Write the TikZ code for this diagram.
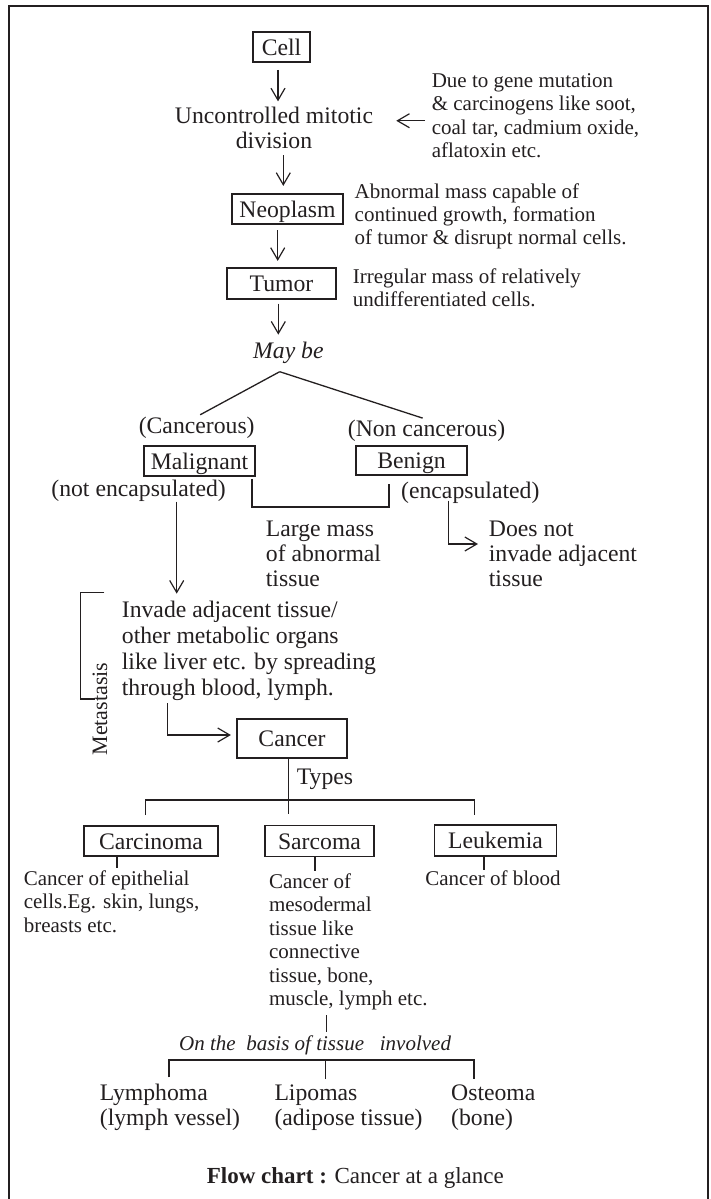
\documentclass[tikz,border=0pt]{standalone}
\usepackage{fontspec}
\setmainfont{Liberation Serif}
\usetikzlibrary{arrows.meta,calc}
\definecolor{ink}{RGB}{35,31,32}
\begin{document}
\begin{tikzpicture}[x=1pt,y=-1pt,
  big/.style={font=\fontsize{23.7}{25}\selectfont},
  small/.style={font=\fontsize{21}{23.5}\selectfont},
  txt/.style={inner sep=0pt, anchor=base west, align=left, text=ink},
  box/.style={draw=ink, line width=1.6pt, inner sep=0pt, text height=16.5pt, text depth=0pt, big, text=ink},
  arr/.style={draw=ink, line width=1.2pt, -{Straight Barb[length=12pt,width=14pt,line width=1.2pt]}},
  ln/.style={draw=ink, line width=1.3pt},
  thk/.style={draw=ink, line width=1.8pt}]
\useasboundingbox (0,0) rectangle (710,1199);
% frame
\draw[draw=ink, line width=2pt] (9,1210) -- (9,6) -- (707.7,6) -- (707.7,1210);

% top chain (multi-line nodes are anchored at the baseline of their last line)
\node[box, minimum width=57pt, minimum height=30pt] (cell) at (281.5,47) {Cell};
\node[txt, big, align=center, anchor=base] (unc) at (274,148.3) {Uncontrolled mitotic\\division};
\node[txt, small] (due) at (431.6,157.8) {Due to gene mutation\\\& carcinogens like soot,\\coal tar, cadmium oxide,\\aflatoxin etc.};
\node[box, minimum width=111pt, minimum height=30pt] (neo) at (287.5,209) {Neoplasm};
\node[txt, small, font=\fontsize{21}{23}\selectfont] (abn) at (354.5,244.3) {Abnormal mass capable of\\continued growth, formation\\of tumor \& disrupt normal cells.};
\node[box, minimum width=109pt, minimum height=31pt] (tumor) at (281.5,283.5) {Tumor};
\node[txt, small, font=\fontsize{21}{22.7}\selectfont] (irr) at (352.7,306) {Irregular mass of relatively\\undifferentiated cells.};
\node[txt, big] (maybe) at (253,358.3) {\itshape May be};

\draw[arr, shorten <=7pt, shorten >=5.3pt] ([xshift=-3.5pt]cell.south) -- ([xshift=-3.5pt]cell.south |- unc.north);
\draw[arr, shorten <=6.7pt, shorten >=7.3pt] ([xshift=-4.2pt]neo.north |- unc.south) -- ([xshift=-4.2pt]neo.north);
\draw[arr, shorten <=5.3pt, shorten >=6.3pt] ([xshift=-3.8pt]tumor.north |- neo.south) -- ([xshift=-3.8pt]tumor.north);
\draw[arr, shorten <=3.7pt, shorten >=7pt] ([xshift=-3.2pt]tumor.south) -- ([xshift=-3.2pt]tumor.south |- maybe.north);
\draw[arr, shorten <=6.6pt, shorten >=23pt] ([yshift=-5pt]due.west) -- ([yshift=-5pt]due.west -| unc.east);

% branches
\coordinate (apex) at (279.7,371.7);
\node[txt, big, anchor=base] (canc) at (196.7,433.3) {(Cancerous)};
\node[txt, big, anchor=base] (noncanc) at (426.5,436) {(Non cancerous)};
\draw[ln, shorten >=4pt] (apex) -- (canc.north);
\draw[ln, shorten >=4pt] (apex) -- (noncanc.north);
\node[box, minimum width=111pt, minimum height=30pt] (malig) at (199.5,461) {Malignant};
\node[box, minimum width=111pt, minimum height=29pt] (benign) at (411.5,460.5) {Benign};
\node[txt, big] (notenc) at (51.2,496) {(not encapsulated)};
\node[txt, big] (enc) at (401,498.3) {(encapsulated)};
\draw[thk] ($(malig.south east)+(-4,2)$) -- ++(0,28) -| ($(benign.south west)+(34,7.7)$);
\node[txt, big] (large) at (265.7,586.7) {Large mass\\of abnormal\\tissue};
\node[txt, big] (doesnot) at (488.7,586.7) {Does not\\invade adjacent\\tissue};
\coordinate (e1) at (448.8,500.7);
\draw[arr, shorten >=10.7pt] (e1) |- ($(doesnot.west |- e1)+(0,43.3)$);

% malignant path
\node[txt, big, font=\fontsize{23.7}{26}\selectfont] (invade) at (121.7,695.3) {Invade adjacent tissue/\\other metabolic organs\\like liver etc. by spreading\\through blood, lymph.};
\coordinate (m1) at (176.7,501.7);
\draw[arr, shorten >=7pt] (m1) -- (m1 |- invade.north);
\coordinate (mt) at (104.3,592.3);
\coordinate (mb) at (95,699);
\draw[ln] (mt) -- (80.7,592.3) |- (mb);
\node[inner sep=0pt, rotate=90, text=ink, font=\fontsize{22}{24}\selectfont] (meta) at (100,709) {Metastasis};

\node[box, minimum width=110pt, minimum height=39pt] (cancer) at (292,738.5) {Cancer};
\coordinate (t1) at (167.7,703.3);
\draw[arr, shorten >=5.3pt] (t1) |- ($(cancer.west)+(0,-3.5)$);

% types
\draw[ln] ([xshift=-3.7pt]cancer.south) -- ++(0,55);
\node[txt, big] (types) at (296.7,784.3) {Types};
\node[box, minimum width=134pt, minimum height=30pt] (carc) at (151,841) {Carcinoma};
\node[box, minimum width=109pt, minimum height=31pt] (sarc) at (319.5,841) {Sarcoma};
\node[box, minimum width=122pt, minimum height=31pt] (leuk) at (495.5,840.5) {Leukemia};
\coordinate (tl) at (145.7,815);
\coordinate (tr) at (474.3,815);
\draw[ln] (tl) -- ++(0,-15) -- ($(tr)+(0,-15)$) -- (tr);

\draw[ln] ([xshift=-34pt]carc.south) -- ++(0,10.7);
\draw[ln] ([xshift=-4.5pt]sarc.south) -- ++(0,14);
\draw[ln] ([xshift=-11.5pt]leuk.south) -- ++(0,13);

\node[txt, small, font=\fontsize{21}{23.8}\selectfont] (epi) at (23.6,932.6) {Cancer of epithelial\\cells.Eg. skin, lungs,\\breasts etc.};
\node[txt, small, font=\fontsize{21}{23.5}\selectfont] (meso) at (268.8,1005.8) {Cancer of\\mesodermal\\tissue like\\connective\\tissue, bone,\\muscle, lymph etc.};
\node[txt, small] (blood) at (425.2,885) {Cancer of blood};

\coordinate (s1) at (326.4,1015);
\draw[ln] (s1) -- ++(0,16.7);
\node[txt, small] (basis) at (179,1050) {\itshape On the\ \ basis of tissue\ \ \ involved};
\coordinate (bl) at (168.6,1077.3);
\coordinate (bm) at (325.5,1079);
\coordinate (br) at (473.7,1079);
\draw[thk] (bl) |- (br |- 0,1060) -- (br);
\draw[ln] (bm) -- (bm |- 0,1060);

\node[txt, big] (lympho) at (99.7,1125) {Lymphoma\\(lymph vessel)};
\node[txt, big] (lipo) at (274.3,1125) {Lipomas\\(adipose tissue)};
\node[txt, big] (osteo) at (451,1125) {Osteoma\\(bone)};

\node[txt, font=\fontsize{23}{25}\selectfont] (cap) at (206.7,1183.3) {\textbf{Flow chart :} Cancer at a glance};
\end{tikzpicture}
\end{document}
